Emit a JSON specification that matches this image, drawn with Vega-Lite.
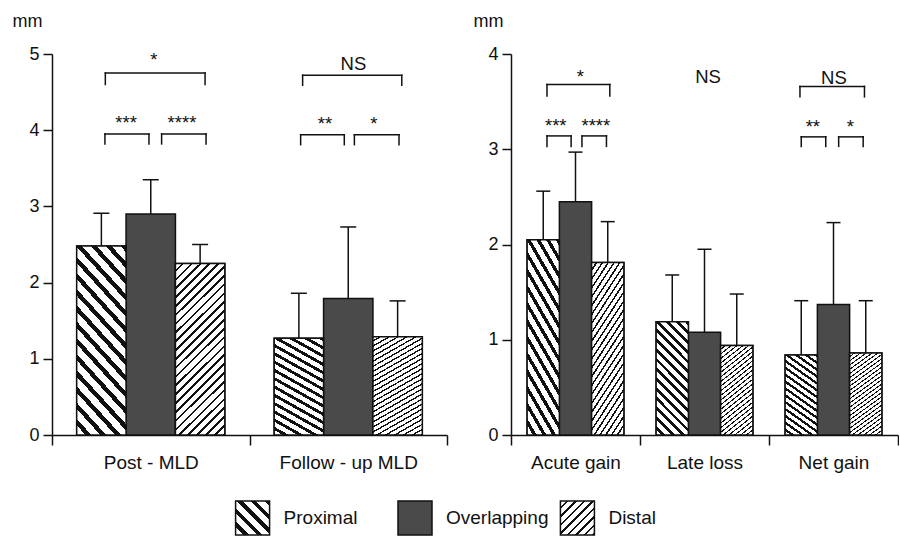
{
  "$schema": "https://vega.github.io/schema/vega-lite/v6.json",
  "background": "white",
  "padding": {"left": 12, "top": 12, "right": 0, "bottom": 0},
  "autosize": {"type": "pad"},
  "spacing": 28,
  "config": {
    "font": "Liberation Sans",
    "view": {"stroke": null},
    "axis": {"domainColor": "#111", "tickColor": "#111", "labelColor": "#111", "titleColor": "#111", "domainWidth": 1.5, "tickWidth": 1.5, "labelFont": "Liberation Sans", "titleFont": "Liberation Sans", "grid": false}
  },
  "datasets": {
    "bars": [
      {"panel": "L", "group": "Post - MLD", "series": "Proximal", "mean": 2.48, "upper": 2.91},
      {"panel": "L", "group": "Post - MLD", "series": "Overlapping", "mean": 2.90, "upper": 3.35},
      {"panel": "L", "group": "Post - MLD", "series": "Distal", "mean": 2.25, "upper": 2.50},
      {"panel": "L", "group": "Follow - up MLD", "series": "Proximal", "mean": 1.27, "upper": 1.86},
      {"panel": "L", "group": "Follow - up MLD", "series": "Overlapping", "mean": 1.79, "upper": 2.73},
      {"panel": "L", "group": "Follow - up MLD", "series": "Distal", "mean": 1.29, "upper": 1.76},
      {"panel": "R", "group": "Acute gain", "series": "Proximal", "mean": 2.05, "upper": 2.56},
      {"panel": "R", "group": "Acute gain", "series": "Overlapping", "mean": 2.45, "upper": 2.97},
      {"panel": "R", "group": "Acute gain", "series": "Distal", "mean": 1.81, "upper": 2.24},
      {"panel": "R", "group": "Late loss", "series": "Proximal", "mean": 1.19, "upper": 1.68},
      {"panel": "R", "group": "Late loss", "series": "Overlapping", "mean": 1.08, "upper": 1.95},
      {"panel": "R", "group": "Late loss", "series": "Distal", "mean": 0.94, "upper": 1.48},
      {"panel": "R", "group": "Net gain", "series": "Proximal", "mean": 0.84, "upper": 1.41},
      {"panel": "R", "group": "Net gain", "series": "Overlapping", "mean": 1.37, "upper": 2.23},
      {"panel": "R", "group": "Net gain", "series": "Distal", "mean": 0.86, "upper": 1.41}
    ],
    "brackets": [
      {"panel": "L", "x1": 0.27, "x2": 0.775, "top": 4.75, "low": 4.60},
      {"panel": "L", "x1": 0.268, "x2": 0.491, "top": 3.95, "low": 3.82},
      {"panel": "L", "x1": 0.555, "x2": 0.78, "top": 3.95, "low": 3.82},
      {"panel": "L", "x1": 1.269, "x2": 1.771, "top": 4.72, "low": 4.59},
      {"panel": "L", "x1": 1.259, "x2": 1.48, "top": 3.94, "low": 3.81},
      {"panel": "L", "x1": 1.531, "x2": 1.757, "top": 3.94, "low": 3.81},
      {"panel": "R", "x1": 0.279, "x2": 0.766, "top": 3.68, "low": 3.56},
      {"panel": "R", "x1": 0.279, "x2": 0.466, "top": 3.14, "low": 3.03},
      {"panel": "R", "x1": 0.55, "x2": 0.74, "top": 3.14, "low": 3.03},
      {"panel": "R", "x1": 2.24, "x2": 2.74, "top": 3.66, "low": 3.55},
      {"panel": "R", "x1": 2.25, "x2": 2.44, "top": 3.13, "low": 3.03},
      {"panel": "R", "x1": 2.54, "x2": 2.73, "top": 3.13, "low": 3.03}
    ],
    "labels": [
      {"panel": "L", "text": "*", "x": 0.516, "y": 4.84},
      {"panel": "L", "text": "NS", "x": 1.526, "y": 4.79},
      {"panel": "L", "text": "***", "x": 0.375, "y": 4.01},
      {"panel": "L", "text": "****", "x": 0.658, "y": 4.01},
      {"panel": "L", "text": "**", "x": 1.382, "y": 4.0},
      {"panel": "L", "text": "*", "x": 1.63, "y": 4.0},
      {"panel": "R", "text": "*", "x": 0.538, "y": 3.70},
      {"panel": "R", "text": "***", "x": 0.347, "y": 3.18},
      {"panel": "R", "text": "****", "x": 0.658, "y": 3.18},
      {"panel": "R", "text": "NS", "x": 1.527, "y": 3.70},
      {"panel": "R", "text": "NS", "x": 2.503, "y": 3.69},
      {"panel": "R", "text": "**", "x": 2.34, "y": 3.17},
      {"panel": "R", "text": "*", "x": 2.63, "y": 3.17}
    ],
    "legend": [
      {"series": "Proximal"},
      {"series": "Overlapping"},
      {"series": "Distal"}
    ]
  },
  "vconcat": [
    {
      "spacing": 25,
      "resolve": {"scale": {"xOffset": "independent"}},
      "hconcat": [
        {
          "width": 395,
          "height": 381,
          "layer": [
            {
              "data": {"name": "bars"},
              "transform": [{"filter": "datum.panel === 'L'"}],
              "encoding": {
                "x": {"field": "group", "type": "nominal", "sort": ["Post - MLD", "Follow - up MLD"], "scale": {"domain": ["Post - MLD", "Follow - up MLD"], "paddingInner": 0, "paddingOuter": 0},
                  "axis": {"title": null, "tickBand": "extent", "tickSize": 10, "labelPadding": 8, "labelFontSize": 19, "labelAngle": 0}},
                "xOffset": {"field": "series", "type": "nominal", "sort": ["Proximal", "Overlapping", "Distal"], "scale": {"domain": ["Proximal", "Overlapping", "Distal"], "paddingInner": 0, "paddingOuter": 0.5}}
              },
              "layer": [
                {
                  "mark": {"type": "bar", "stroke": "#111", "strokeWidth": 1.5, "fill": "#4a4a4a"},
                  "encoding": {
                    "y": {"field": "mean", "type": "quantitative", "scale": {"domain": [0, 5], "nice": false},
                      "axis": {"title": "mm", "titleAngle": 0, "titleAlign": "left", "titleBaseline": "alphabetic", "titleX": -40, "titleY": -28, "titleFontSize": 18, "titleFontWeight": "normal", "values": [0, 1, 2, 3, 4, 5], "tickSize": 9, "labelPadding": 4, "labelFontSize": 18, "format": "d"}}
                  }
                },
                {
                  "transform": [{"filter": "datum.series === 'Proximal'"}],
                  "mark": {"type": "bar", "stroke": "#111", "strokeWidth": 1.5,
                    "fill": {"gradient": "linear", "x1": 0, "y1": 1, "x2": 0.34, "y2": -0.19, "stops": [
                      {"offset": 0, "color": "#ffffff"}, {"offset": 0.04, "color": "#ffffff"}, {"offset": 0.04, "color": "#111111"}, {"offset": 0.0667, "color": "#111111"},
                      {"offset": 0.0667, "color": "#ffffff"}, {"offset": 0.1067, "color": "#ffffff"}, {"offset": 0.1067, "color": "#111111"}, {"offset": 0.1333, "color": "#111111"},
                      {"offset": 0.1333, "color": "#ffffff"}, {"offset": 0.1733, "color": "#ffffff"}, {"offset": 0.1733, "color": "#111111"}, {"offset": 0.2, "color": "#111111"},
                      {"offset": 0.2, "color": "#ffffff"}, {"offset": 0.24, "color": "#ffffff"}, {"offset": 0.24, "color": "#111111"}, {"offset": 0.2667, "color": "#111111"},
                      {"offset": 0.2667, "color": "#ffffff"}, {"offset": 0.3067, "color": "#ffffff"}, {"offset": 0.3067, "color": "#111111"}, {"offset": 0.3333, "color": "#111111"},
                      {"offset": 0.3333, "color": "#ffffff"}, {"offset": 0.3733, "color": "#ffffff"}, {"offset": 0.3733, "color": "#111111"}, {"offset": 0.4, "color": "#111111"},
                      {"offset": 0.4, "color": "#ffffff"}, {"offset": 0.44, "color": "#ffffff"}, {"offset": 0.44, "color": "#111111"}, {"offset": 0.4667, "color": "#111111"},
                      {"offset": 0.4667, "color": "#ffffff"}, {"offset": 0.5067, "color": "#ffffff"}, {"offset": 0.5067, "color": "#111111"}, {"offset": 0.5333, "color": "#111111"},
                      {"offset": 0.5333, "color": "#ffffff"}, {"offset": 0.5733, "color": "#ffffff"}, {"offset": 0.5733, "color": "#111111"}, {"offset": 0.6, "color": "#111111"},
                      {"offset": 0.6, "color": "#ffffff"}, {"offset": 0.64, "color": "#ffffff"}, {"offset": 0.64, "color": "#111111"}, {"offset": 0.6667, "color": "#111111"},
                      {"offset": 0.6667, "color": "#ffffff"}, {"offset": 0.7067, "color": "#ffffff"}, {"offset": 0.7067, "color": "#111111"}, {"offset": 0.7333, "color": "#111111"},
                      {"offset": 0.7333, "color": "#ffffff"}, {"offset": 0.7733, "color": "#ffffff"}, {"offset": 0.7733, "color": "#111111"}, {"offset": 0.8, "color": "#111111"},
                      {"offset": 0.8, "color": "#ffffff"}, {"offset": 0.84, "color": "#ffffff"}, {"offset": 0.84, "color": "#111111"}, {"offset": 0.8667, "color": "#111111"},
                      {"offset": 0.8667, "color": "#ffffff"}, {"offset": 0.9067, "color": "#ffffff"}, {"offset": 0.9067, "color": "#111111"}, {"offset": 0.9333, "color": "#111111"},
                      {"offset": 0.9333, "color": "#ffffff"}, {"offset": 0.9733, "color": "#ffffff"}, {"offset": 0.9733, "color": "#111111"}, {"offset": 1, "color": "#111111"}
                    ]}},
                  "encoding": {"y": {"field": "mean", "type": "quantitative"}}
                },
                {
                  "transform": [{"filter": "datum.series === 'Distal'"}],
                  "mark": {"type": "bar", "stroke": "#111", "strokeWidth": 1.5,
                    "fill": {"gradient": "linear", "x1": 0, "y1": 0, "x2": 0.34, "y2": 1.19, "stops": [
                      {"offset": 0, "color": "#ffffff"}, {"offset": 0.028, "color": "#ffffff"}, {"offset": 0.028, "color": "#111111"}, {"offset": 0.04, "color": "#111111"},
                      {"offset": 0.04, "color": "#ffffff"}, {"offset": 0.068, "color": "#ffffff"}, {"offset": 0.068, "color": "#111111"}, {"offset": 0.08, "color": "#111111"},
                      {"offset": 0.08, "color": "#ffffff"}, {"offset": 0.108, "color": "#ffffff"}, {"offset": 0.108, "color": "#111111"}, {"offset": 0.12, "color": "#111111"},
                      {"offset": 0.12, "color": "#ffffff"}, {"offset": 0.148, "color": "#ffffff"}, {"offset": 0.148, "color": "#111111"}, {"offset": 0.16, "color": "#111111"},
                      {"offset": 0.16, "color": "#ffffff"}, {"offset": 0.188, "color": "#ffffff"}, {"offset": 0.188, "color": "#111111"}, {"offset": 0.2, "color": "#111111"},
                      {"offset": 0.2, "color": "#ffffff"}, {"offset": 0.228, "color": "#ffffff"}, {"offset": 0.228, "color": "#111111"}, {"offset": 0.24, "color": "#111111"},
                      {"offset": 0.24, "color": "#ffffff"}, {"offset": 0.268, "color": "#ffffff"}, {"offset": 0.268, "color": "#111111"}, {"offset": 0.28, "color": "#111111"},
                      {"offset": 0.28, "color": "#ffffff"}, {"offset": 0.308, "color": "#ffffff"}, {"offset": 0.308, "color": "#111111"}, {"offset": 0.32, "color": "#111111"},
                      {"offset": 0.32, "color": "#ffffff"}, {"offset": 0.348, "color": "#ffffff"}, {"offset": 0.348, "color": "#111111"}, {"offset": 0.36, "color": "#111111"},
                      {"offset": 0.36, "color": "#ffffff"}, {"offset": 0.388, "color": "#ffffff"}, {"offset": 0.388, "color": "#111111"}, {"offset": 0.4, "color": "#111111"},
                      {"offset": 0.4, "color": "#ffffff"}, {"offset": 0.428, "color": "#ffffff"}, {"offset": 0.428, "color": "#111111"}, {"offset": 0.44, "color": "#111111"},
                      {"offset": 0.44, "color": "#ffffff"}, {"offset": 0.468, "color": "#ffffff"}, {"offset": 0.468, "color": "#111111"}, {"offset": 0.48, "color": "#111111"},
                      {"offset": 0.48, "color": "#ffffff"}, {"offset": 0.508, "color": "#ffffff"}, {"offset": 0.508, "color": "#111111"}, {"offset": 0.52, "color": "#111111"},
                      {"offset": 0.52, "color": "#ffffff"}, {"offset": 0.548, "color": "#ffffff"}, {"offset": 0.548, "color": "#111111"}, {"offset": 0.56, "color": "#111111"},
                      {"offset": 0.56, "color": "#ffffff"}, {"offset": 0.588, "color": "#ffffff"}, {"offset": 0.588, "color": "#111111"}, {"offset": 0.6, "color": "#111111"},
                      {"offset": 0.6, "color": "#ffffff"}, {"offset": 0.628, "color": "#ffffff"}, {"offset": 0.628, "color": "#111111"}, {"offset": 0.64, "color": "#111111"},
                      {"offset": 0.64, "color": "#ffffff"}, {"offset": 0.668, "color": "#ffffff"}, {"offset": 0.668, "color": "#111111"}, {"offset": 0.68, "color": "#111111"},
                      {"offset": 0.68, "color": "#ffffff"}, {"offset": 0.708, "color": "#ffffff"}, {"offset": 0.708, "color": "#111111"}, {"offset": 0.72, "color": "#111111"},
                      {"offset": 0.72, "color": "#ffffff"}, {"offset": 0.748, "color": "#ffffff"}, {"offset": 0.748, "color": "#111111"}, {"offset": 0.76, "color": "#111111"},
                      {"offset": 0.76, "color": "#ffffff"}, {"offset": 0.788, "color": "#ffffff"}, {"offset": 0.788, "color": "#111111"}, {"offset": 0.8, "color": "#111111"},
                      {"offset": 0.8, "color": "#ffffff"}, {"offset": 0.828, "color": "#ffffff"}, {"offset": 0.828, "color": "#111111"}, {"offset": 0.84, "color": "#111111"},
                      {"offset": 0.84, "color": "#ffffff"}, {"offset": 0.868, "color": "#ffffff"}, {"offset": 0.868, "color": "#111111"}, {"offset": 0.88, "color": "#111111"},
                      {"offset": 0.88, "color": "#ffffff"}, {"offset": 0.908, "color": "#ffffff"}, {"offset": 0.908, "color": "#111111"}, {"offset": 0.92, "color": "#111111"},
                      {"offset": 0.92, "color": "#ffffff"}, {"offset": 0.948, "color": "#ffffff"}, {"offset": 0.948, "color": "#111111"}, {"offset": 0.96, "color": "#111111"},
                      {"offset": 0.96, "color": "#ffffff"}, {"offset": 0.988, "color": "#ffffff"}, {"offset": 0.988, "color": "#111111"}, {"offset": 1, "color": "#111111"}
                    ]}},
                  "encoding": {"y": {"field": "mean", "type": "quantitative"}}
                },
                {
                  "mark": {"type": "rule", "stroke": "#111", "strokeWidth": 1.5},
                  "encoding": {"y": {"field": "mean", "type": "quantitative"}, "y2": {"field": "upper"}}
                },
                {
                  "mark": {"type": "tick", "color": "#111", "size": 16, "thickness": 1.5, "opacity": 1},
                  "encoding": {"y": {"field": "upper", "type": "quantitative"}}
                }
              ]
            },
            {
              "data": {"name": "brackets"},
              "transform": [{"filter": "datum.panel === 'L'"}],
              "layer": [
                {
                  "mark": {"type": "rule", "stroke": "#111", "strokeWidth": 1.5, "strokeCap": "square"},
                  "encoding": {
                    "x": {"field": "x1", "type": "quantitative", "scale": {"domain": [0, 2], "nice": false, "zero": false}, "axis": null},
                    "x2": {"field": "x2"},
                    "y": {"field": "top", "type": "quantitative", "scale": {"domain": [0, 5], "nice": false}}
                  }
                },
                {
                  "mark": {"type": "rule", "stroke": "#111", "strokeWidth": 1.5, "strokeCap": "square"},
                  "encoding": {
                    "x": {"field": "x1", "type": "quantitative", "scale": {"domain": [0, 2], "nice": false, "zero": false}, "axis": null},
                    "y": {"field": "low", "type": "quantitative", "scale": {"domain": [0, 5], "nice": false}},
                    "y2": {"field": "top"}
                  }
                },
                {
                  "mark": {"type": "rule", "stroke": "#111", "strokeWidth": 1.5, "strokeCap": "square"},
                  "encoding": {
                    "x": {"field": "x2", "type": "quantitative", "scale": {"domain": [0, 2], "nice": false, "zero": false}, "axis": null},
                    "y": {"field": "low", "type": "quantitative", "scale": {"domain": [0, 5], "nice": false}},
                    "y2": {"field": "top"}
                  }
                },
                {
                  "data": {"name": "labels"},
                  "transform": [{"filter": "datum.panel === 'L'"}],
                  "mark": {"type": "text", "baseline": "alphabetic", "align": "center", "font": "Liberation Sans", "fontSize": 18.5, "color": "#111"},
                  "encoding": {
                    "x": {"field": "x", "type": "quantitative", "scale": {"domain": [0, 2], "nice": false, "zero": false}, "axis": null},
                    "y": {"field": "y", "type": "quantitative", "scale": {"domain": [0, 5], "nice": false}},
                    "text": {"field": "text"}
                  }
                }
              ]
            }
          ],
          "resolve": {"scale": {"x": "independent"}}
        },
        {
          "width": 387,
          "height": 381,
          "layer": [
            {
              "data": {"name": "bars"},
              "transform": [{"filter": "datum.panel === 'R'"}],
              "encoding": {
                "x": {"field": "group", "type": "nominal", "sort": ["Acute gain", "Late loss", "Net gain"], "scale": {"domain": ["Acute gain", "Late loss", "Net gain"], "paddingInner": 0, "paddingOuter": 0},
                  "axis": {"title": null, "tickBand": "extent", "tickSize": 10, "labelPadding": 8, "labelFontSize": 19, "labelAngle": 0}},
                "xOffset": {"field": "series", "type": "nominal", "sort": ["Proximal", "Overlapping", "Distal"], "scale": {"domain": ["Proximal", "Overlapping", "Distal"], "paddingInner": 0, "paddingOuter": 0.5}}
              },
              "layer": [
                {
                  "mark": {"type": "bar", "stroke": "#111", "strokeWidth": 1.5, "fill": "#4a4a4a"},
                  "encoding": {
                    "y": {"field": "mean", "type": "quantitative", "scale": {"domain": [0, 4], "nice": false},
                      "axis": {"title": "mm", "titleAngle": 0, "titleAlign": "left", "titleBaseline": "alphabetic", "titleX": -38, "titleY": -28, "titleFontSize": 18, "titleFontWeight": "normal", "values": [0, 1, 2, 3, 4], "tickSize": 9, "labelPadding": 4, "labelFontSize": 18, "format": "d"}}
                  }
                },
                {
                  "transform": [{"filter": "datum.series === 'Proximal'"}],
                  "mark": {"type": "bar", "stroke": "#111", "strokeWidth": 1.5,
                    "fill": {"gradient": "linear", "x1": 0, "y1": 1, "x2": 0.34, "y2": -0.19, "stops": [
                      {"offset": 0, "color": "#ffffff"}, {"offset": 0.04, "color": "#ffffff"}, {"offset": 0.04, "color": "#111111"}, {"offset": 0.0667, "color": "#111111"},
                      {"offset": 0.0667, "color": "#ffffff"}, {"offset": 0.1067, "color": "#ffffff"}, {"offset": 0.1067, "color": "#111111"}, {"offset": 0.1333, "color": "#111111"},
                      {"offset": 0.1333, "color": "#ffffff"}, {"offset": 0.1733, "color": "#ffffff"}, {"offset": 0.1733, "color": "#111111"}, {"offset": 0.2, "color": "#111111"},
                      {"offset": 0.2, "color": "#ffffff"}, {"offset": 0.24, "color": "#ffffff"}, {"offset": 0.24, "color": "#111111"}, {"offset": 0.2667, "color": "#111111"},
                      {"offset": 0.2667, "color": "#ffffff"}, {"offset": 0.3067, "color": "#ffffff"}, {"offset": 0.3067, "color": "#111111"}, {"offset": 0.3333, "color": "#111111"},
                      {"offset": 0.3333, "color": "#ffffff"}, {"offset": 0.3733, "color": "#ffffff"}, {"offset": 0.3733, "color": "#111111"}, {"offset": 0.4, "color": "#111111"},
                      {"offset": 0.4, "color": "#ffffff"}, {"offset": 0.44, "color": "#ffffff"}, {"offset": 0.44, "color": "#111111"}, {"offset": 0.4667, "color": "#111111"},
                      {"offset": 0.4667, "color": "#ffffff"}, {"offset": 0.5067, "color": "#ffffff"}, {"offset": 0.5067, "color": "#111111"}, {"offset": 0.5333, "color": "#111111"},
                      {"offset": 0.5333, "color": "#ffffff"}, {"offset": 0.5733, "color": "#ffffff"}, {"offset": 0.5733, "color": "#111111"}, {"offset": 0.6, "color": "#111111"},
                      {"offset": 0.6, "color": "#ffffff"}, {"offset": 0.64, "color": "#ffffff"}, {"offset": 0.64, "color": "#111111"}, {"offset": 0.6667, "color": "#111111"},
                      {"offset": 0.6667, "color": "#ffffff"}, {"offset": 0.7067, "color": "#ffffff"}, {"offset": 0.7067, "color": "#111111"}, {"offset": 0.7333, "color": "#111111"},
                      {"offset": 0.7333, "color": "#ffffff"}, {"offset": 0.7733, "color": "#ffffff"}, {"offset": 0.7733, "color": "#111111"}, {"offset": 0.8, "color": "#111111"},
                      {"offset": 0.8, "color": "#ffffff"}, {"offset": 0.84, "color": "#ffffff"}, {"offset": 0.84, "color": "#111111"}, {"offset": 0.8667, "color": "#111111"},
                      {"offset": 0.8667, "color": "#ffffff"}, {"offset": 0.9067, "color": "#ffffff"}, {"offset": 0.9067, "color": "#111111"}, {"offset": 0.9333, "color": "#111111"},
                      {"offset": 0.9333, "color": "#ffffff"}, {"offset": 0.9733, "color": "#ffffff"}, {"offset": 0.9733, "color": "#111111"}, {"offset": 1, "color": "#111111"}
                    ]}},
                  "encoding": {"y": {"field": "mean", "type": "quantitative"}}
                },
                {
                  "transform": [{"filter": "datum.series === 'Distal'"}],
                  "mark": {"type": "bar", "stroke": "#111", "strokeWidth": 1.5,
                    "fill": {"gradient": "linear", "x1": 0, "y1": 0, "x2": 0.34, "y2": 1.19, "stops": [
                      {"offset": 0, "color": "#ffffff"}, {"offset": 0.028, "color": "#ffffff"}, {"offset": 0.028, "color": "#111111"}, {"offset": 0.04, "color": "#111111"},
                      {"offset": 0.04, "color": "#ffffff"}, {"offset": 0.068, "color": "#ffffff"}, {"offset": 0.068, "color": "#111111"}, {"offset": 0.08, "color": "#111111"},
                      {"offset": 0.08, "color": "#ffffff"}, {"offset": 0.108, "color": "#ffffff"}, {"offset": 0.108, "color": "#111111"}, {"offset": 0.12, "color": "#111111"},
                      {"offset": 0.12, "color": "#ffffff"}, {"offset": 0.148, "color": "#ffffff"}, {"offset": 0.148, "color": "#111111"}, {"offset": 0.16, "color": "#111111"},
                      {"offset": 0.16, "color": "#ffffff"}, {"offset": 0.188, "color": "#ffffff"}, {"offset": 0.188, "color": "#111111"}, {"offset": 0.2, "color": "#111111"},
                      {"offset": 0.2, "color": "#ffffff"}, {"offset": 0.228, "color": "#ffffff"}, {"offset": 0.228, "color": "#111111"}, {"offset": 0.24, "color": "#111111"},
                      {"offset": 0.24, "color": "#ffffff"}, {"offset": 0.268, "color": "#ffffff"}, {"offset": 0.268, "color": "#111111"}, {"offset": 0.28, "color": "#111111"},
                      {"offset": 0.28, "color": "#ffffff"}, {"offset": 0.308, "color": "#ffffff"}, {"offset": 0.308, "color": "#111111"}, {"offset": 0.32, "color": "#111111"},
                      {"offset": 0.32, "color": "#ffffff"}, {"offset": 0.348, "color": "#ffffff"}, {"offset": 0.348, "color": "#111111"}, {"offset": 0.36, "color": "#111111"},
                      {"offset": 0.36, "color": "#ffffff"}, {"offset": 0.388, "color": "#ffffff"}, {"offset": 0.388, "color": "#111111"}, {"offset": 0.4, "color": "#111111"},
                      {"offset": 0.4, "color": "#ffffff"}, {"offset": 0.428, "color": "#ffffff"}, {"offset": 0.428, "color": "#111111"}, {"offset": 0.44, "color": "#111111"},
                      {"offset": 0.44, "color": "#ffffff"}, {"offset": 0.468, "color": "#ffffff"}, {"offset": 0.468, "color": "#111111"}, {"offset": 0.48, "color": "#111111"},
                      {"offset": 0.48, "color": "#ffffff"}, {"offset": 0.508, "color": "#ffffff"}, {"offset": 0.508, "color": "#111111"}, {"offset": 0.52, "color": "#111111"},
                      {"offset": 0.52, "color": "#ffffff"}, {"offset": 0.548, "color": "#ffffff"}, {"offset": 0.548, "color": "#111111"}, {"offset": 0.56, "color": "#111111"},
                      {"offset": 0.56, "color": "#ffffff"}, {"offset": 0.588, "color": "#ffffff"}, {"offset": 0.588, "color": "#111111"}, {"offset": 0.6, "color": "#111111"},
                      {"offset": 0.6, "color": "#ffffff"}, {"offset": 0.628, "color": "#ffffff"}, {"offset": 0.628, "color": "#111111"}, {"offset": 0.64, "color": "#111111"},
                      {"offset": 0.64, "color": "#ffffff"}, {"offset": 0.668, "color": "#ffffff"}, {"offset": 0.668, "color": "#111111"}, {"offset": 0.68, "color": "#111111"},
                      {"offset": 0.68, "color": "#ffffff"}, {"offset": 0.708, "color": "#ffffff"}, {"offset": 0.708, "color": "#111111"}, {"offset": 0.72, "color": "#111111"},
                      {"offset": 0.72, "color": "#ffffff"}, {"offset": 0.748, "color": "#ffffff"}, {"offset": 0.748, "color": "#111111"}, {"offset": 0.76, "color": "#111111"},
                      {"offset": 0.76, "color": "#ffffff"}, {"offset": 0.788, "color": "#ffffff"}, {"offset": 0.788, "color": "#111111"}, {"offset": 0.8, "color": "#111111"},
                      {"offset": 0.8, "color": "#ffffff"}, {"offset": 0.828, "color": "#ffffff"}, {"offset": 0.828, "color": "#111111"}, {"offset": 0.84, "color": "#111111"},
                      {"offset": 0.84, "color": "#ffffff"}, {"offset": 0.868, "color": "#ffffff"}, {"offset": 0.868, "color": "#111111"}, {"offset": 0.88, "color": "#111111"},
                      {"offset": 0.88, "color": "#ffffff"}, {"offset": 0.908, "color": "#ffffff"}, {"offset": 0.908, "color": "#111111"}, {"offset": 0.92, "color": "#111111"},
                      {"offset": 0.92, "color": "#ffffff"}, {"offset": 0.948, "color": "#ffffff"}, {"offset": 0.948, "color": "#111111"}, {"offset": 0.96, "color": "#111111"},
                      {"offset": 0.96, "color": "#ffffff"}, {"offset": 0.988, "color": "#ffffff"}, {"offset": 0.988, "color": "#111111"}, {"offset": 1, "color": "#111111"}
                    ]}},
                  "encoding": {"y": {"field": "mean", "type": "quantitative"}}
                },
                {
                  "mark": {"type": "rule", "stroke": "#111", "strokeWidth": 1.5},
                  "encoding": {"y": {"field": "mean", "type": "quantitative"}, "y2": {"field": "upper"}}
                },
                {
                  "mark": {"type": "tick", "color": "#111", "size": 14, "thickness": 1.5, "opacity": 1},
                  "encoding": {"y": {"field": "upper", "type": "quantitative"}}
                }
              ]
            },
            {
              "data": {"name": "brackets"},
              "transform": [{"filter": "datum.panel === 'R'"}],
              "layer": [
                {
                  "mark": {"type": "rule", "stroke": "#111", "strokeWidth": 1.5, "strokeCap": "square"},
                  "encoding": {
                    "x": {"field": "x1", "type": "quantitative", "scale": {"domain": [0, 3], "nice": false, "zero": false}, "axis": null},
                    "x2": {"field": "x2"},
                    "y": {"field": "top", "type": "quantitative", "scale": {"domain": [0, 4], "nice": false}}
                  }
                },
                {
                  "mark": {"type": "rule", "stroke": "#111", "strokeWidth": 1.5, "strokeCap": "square"},
                  "encoding": {
                    "x": {"field": "x1", "type": "quantitative", "scale": {"domain": [0, 3], "nice": false, "zero": false}, "axis": null},
                    "y": {"field": "low", "type": "quantitative", "scale": {"domain": [0, 4], "nice": false}},
                    "y2": {"field": "top"}
                  }
                },
                {
                  "mark": {"type": "rule", "stroke": "#111", "strokeWidth": 1.5, "strokeCap": "square"},
                  "encoding": {
                    "x": {"field": "x2", "type": "quantitative", "scale": {"domain": [0, 3], "nice": false, "zero": false}, "axis": null},
                    "y": {"field": "low", "type": "quantitative", "scale": {"domain": [0, 4], "nice": false}},
                    "y2": {"field": "top"}
                  }
                },
                {
                  "data": {"name": "labels"},
                  "transform": [{"filter": "datum.panel === 'R'"}],
                  "mark": {"type": "text", "baseline": "alphabetic", "align": "center", "font": "Liberation Sans", "fontSize": 18.5, "color": "#111"},
                  "encoding": {
                    "x": {"field": "x", "type": "quantitative", "scale": {"domain": [0, 3], "nice": false, "zero": false}, "axis": null},
                    "y": {"field": "y", "type": "quantitative", "scale": {"domain": [0, 4], "nice": false}},
                    "text": {"field": "text"}
                  }
                }
              ]
            }
          ],
          "resolve": {"scale": {"x": "independent"}}
        }
      ]
    },
    {
      "width": 726,
      "height": 34,
      "data": {"name": "legend"},
      "encoding": {
        "x": {"field": "series", "type": "nominal", "sort": ["Proximal", "Overlapping", "Distal"], "scale": {"domain": ["Proximal", "Overlapping", "Distal"], "paddingInner": 0, "paddingOuter": 0.735}, "axis": null}
      },
      "layer": [
        {
          "transform": [{"filter": "datum.series === 'Overlapping'"}],
          "mark": {"type": "bar", "width": 34, "stroke": "#111", "strokeWidth": 1.5, "fill": "#4a4a4a"}
        },
        {
          "transform": [{"filter": "datum.series === 'Proximal'"}],
          "mark": {"type": "bar", "width": 34, "stroke": "#111", "strokeWidth": 1.5,
            "fill": {"gradient": "linear", "x1": 0, "y1": 1, "x2": 1, "y2": 0, "stops": [
              {"offset": 0, "color": "#ffffff"}, {"offset": 0.12, "color": "#ffffff"}, {"offset": 0.12, "color": "#111111"}, {"offset": 0.2, "color": "#111111"},
              {"offset": 0.2, "color": "#ffffff"}, {"offset": 0.32, "color": "#ffffff"}, {"offset": 0.32, "color": "#111111"}, {"offset": 0.4, "color": "#111111"},
              {"offset": 0.4, "color": "#ffffff"}, {"offset": 0.52, "color": "#ffffff"}, {"offset": 0.52, "color": "#111111"}, {"offset": 0.6, "color": "#111111"},
              {"offset": 0.6, "color": "#ffffff"}, {"offset": 0.72, "color": "#ffffff"}, {"offset": 0.72, "color": "#111111"}, {"offset": 0.8, "color": "#111111"},
              {"offset": 0.8, "color": "#ffffff"}, {"offset": 0.92, "color": "#ffffff"}, {"offset": 0.92, "color": "#111111"}, {"offset": 1, "color": "#111111"}
            ]}}
        },
        {
          "transform": [{"filter": "datum.series === 'Distal'"}],
          "mark": {"type": "bar", "width": 34, "stroke": "#111", "strokeWidth": 1.5,
            "fill": {"gradient": "linear", "x1": 0, "y1": 0, "x2": 1, "y2": 1, "stops": [
              {"offset": 0, "color": "#ffffff"}, {"offset": 0.0875, "color": "#ffffff"}, {"offset": 0.0875, "color": "#111111"}, {"offset": 0.125, "color": "#111111"},
              {"offset": 0.125, "color": "#ffffff"}, {"offset": 0.2125, "color": "#ffffff"}, {"offset": 0.2125, "color": "#111111"}, {"offset": 0.25, "color": "#111111"},
              {"offset": 0.25, "color": "#ffffff"}, {"offset": 0.3375, "color": "#ffffff"}, {"offset": 0.3375, "color": "#111111"}, {"offset": 0.375, "color": "#111111"},
              {"offset": 0.375, "color": "#ffffff"}, {"offset": 0.4625, "color": "#ffffff"}, {"offset": 0.4625, "color": "#111111"}, {"offset": 0.5, "color": "#111111"},
              {"offset": 0.5, "color": "#ffffff"}, {"offset": 0.5875, "color": "#ffffff"}, {"offset": 0.5875, "color": "#111111"}, {"offset": 0.625, "color": "#111111"},
              {"offset": 0.625, "color": "#ffffff"}, {"offset": 0.7125, "color": "#ffffff"}, {"offset": 0.7125, "color": "#111111"}, {"offset": 0.75, "color": "#111111"},
              {"offset": 0.75, "color": "#ffffff"}, {"offset": 0.8375, "color": "#ffffff"}, {"offset": 0.8375, "color": "#111111"}, {"offset": 0.875, "color": "#111111"},
              {"offset": 0.875, "color": "#ffffff"}, {"offset": 0.9625, "color": "#ffffff"}, {"offset": 0.9625, "color": "#111111"}, {"offset": 1, "color": "#111111"}
            ]}}
        },
        {
          "mark": {"type": "text", "align": "left", "baseline": "middle", "dx": 31, "font": "Liberation Sans", "fontSize": 19, "color": "#111"},
          "encoding": {"text": {"field": "series"}}
        }
      ]
    }
  ]
}
